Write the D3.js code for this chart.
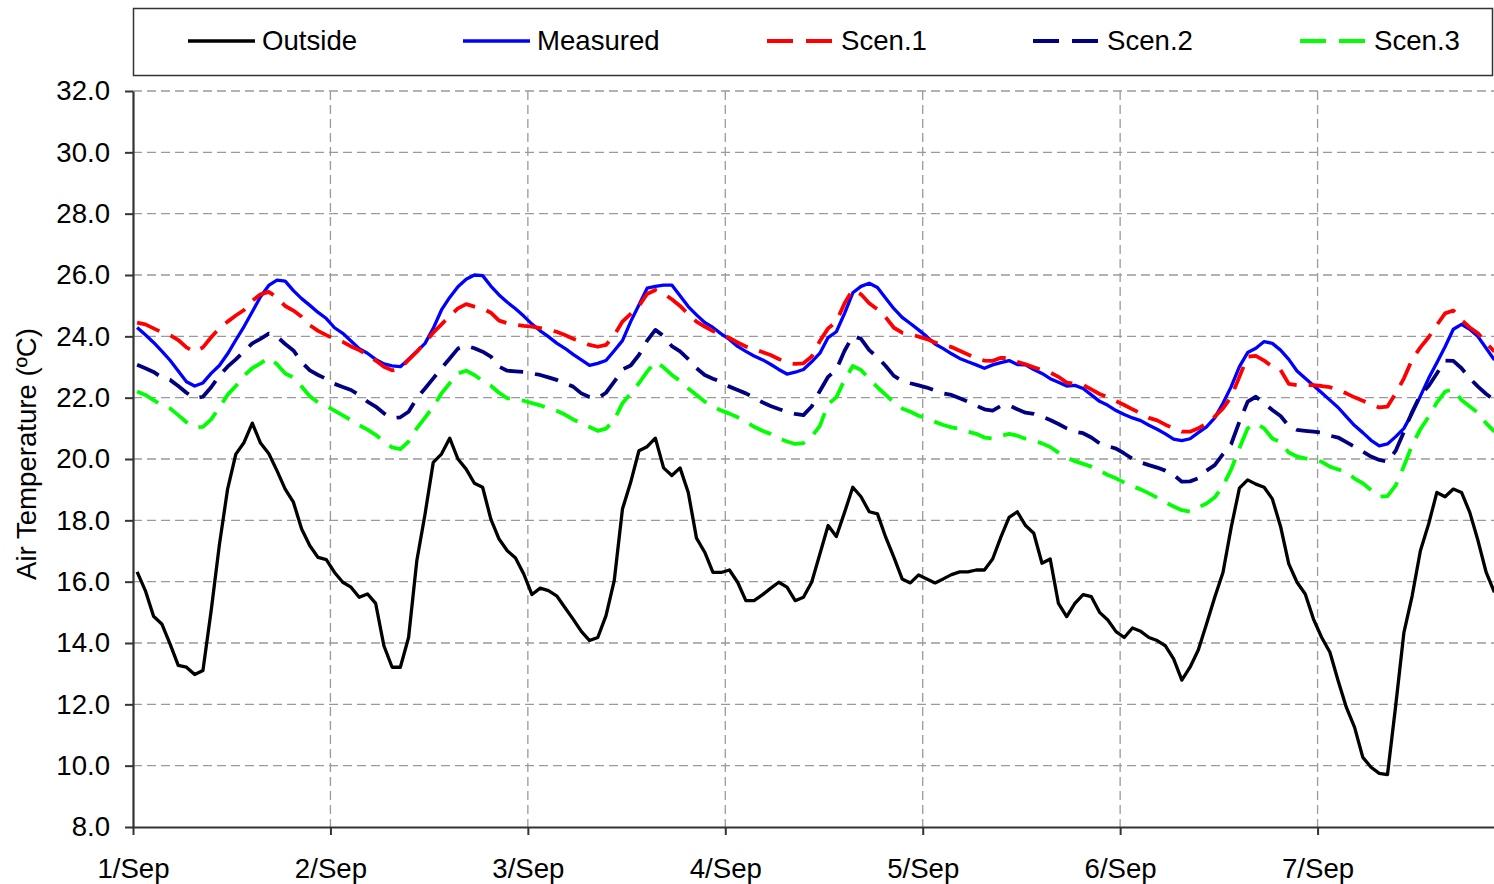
<!DOCTYPE html>
<html><head><meta charset="utf-8">
<script src="https://cdn.jsdelivr.net/npm/d3@7"></script>
<style>
html,body{margin:0;padding:0;background:#fff;}
svg{display:block;font-family:"Liberation Sans",Arial,sans-serif;}
</style></head>
<body>
<svg id="chart" width="1494" height="884"></svg>
<script>
// ---- DATA (hourly values, 1/Sep 00:30 onward) ----
const dayLabels = ["1/Sep","2/Sep","3/Sep","4/Sep","5/Sep","6/Sep","7/Sep"];
const yTicks = [8,10,12,14,16,18,20,22,24,26,28,30,32];
const seriesNames = ["Outside","Measured","Scen.1","Scen.2","Scen.3"];

const outside = [16.32,15.71,14.87,14.62,13.97,13.27,13.21,12.97,13.10,15.05,17.2,19.02,20.16,20.54,21.17,20.52,20.18,19.62,19.02,18.59,17.72,17.17,16.79,16.72,
16.30,15.98,15.82,15.49,15.60,15.29,13.91,13.21,13.21,14.18,16.68,18.2,19.89,20.16,20.68,20.0,19.67,19.21,19.08,18.04,17.39,17.01,16.77,16.25,
15.58,15.79,15.71,15.54,15.16,14.78,14.38,14.08,14.18,14.89,16.03,18.37,19.24,20.27,20.40,20.68,19.71,19.46,19.71,18.91,17.42,16.96,16.30,16.30,
16.38,15.98,15.38,15.38,15.57,15.78,15.98,15.82,15.38,15.49,15.98,16.9,17.83,17.47,18.26,19.08,18.77,18.28,18.21,17.45,16.79,16.09,15.96,16.22,
16.09,15.96,16.09,16.23,16.32,16.32,16.38,16.38,16.74,17.45,18.10,18.28,17.83,17.58,16.60,16.74,15.29,14.86,15.29,15.58,15.51,15.00,14.75,14.37,
14.18,14.49,14.38,14.18,14.08,13.91,13.48,12.79,13.21,13.77,14.62,15.49,16.30,17.77,19.05,19.32,19.18,19.08,18.70,17.8,16.58,15.98,15.60,14.78,
14.18,13.70,12.77,11.90,11.25,10.27,9.95,9.75,9.71,11.96,14.35,15.54,17.01,17.88,18.91,18.77,19.02,18.91,18.26,17.34,16.30,15.65];

const measured = [24.29,24.05,23.80,23.52,23.22,22.87,22.52,22.38,22.48,22.79,23.05,23.43,23.88,24.32,24.80,25.29,25.66,25.83,25.80,25.49,25.23,25.01,24.78,24.58,
24.28,24.10,23.85,23.6,23.45,23.25,23.10,23.04,23.01,23.25,23.50,23.77,24.26,24.86,25.27,25.62,25.86,26.0,25.98,25.64,25.35,25.11,24.90,24.66,
24.40,24.18,23.99,23.78,23.61,23.41,23.23,23.05,23.12,23.21,23.53,23.86,24.48,25.02,25.57,25.63,25.67,25.67,25.32,24.97,24.70,24.45,24.29,24.08,
23.90,23.67,23.51,23.36,23.24,23.09,22.92,22.77,22.83,22.92,23.17,23.45,23.96,24.15,24.75,25.42,25.63,25.73,25.59,25.24,24.90,24.62,24.42,24.21,
23.99,23.75,23.60,23.43,23.28,23.17,23.07,22.96,23.07,23.14,23.21,23.08,23.07,22.92,22.79,22.62,22.50,22.38,22.40,22.30,22.09,21.88,21.75,21.58,
21.45,21.34,21.25,21.10,20.97,20.82,20.65,20.60,20.66,20.86,21.05,21.34,21.82,22.36,23.01,23.47,23.61,23.83,23.77,23.55,23.25,22.87,22.63,22.40,
22.16,21.92,21.68,21.38,21.09,20.86,20.61,20.43,20.49,20.73,21.0,21.49,22.05,22.63,23.14,23.66,24.23,24.39,24.23,23.99,23.61,23.23];

const scen1 = [24.45,24.39,24.26,24.13,24.04,23.88,23.64,23.49,23.64,23.97,24.26,24.48,24.68,24.86,25.16,25.37,25.45,25.27,24.99,24.84,24.64,24.36,24.18,24.04,
23.91,23.82,23.67,23.55,23.39,23.21,23.01,22.89,22.96,23.23,23.50,23.79,24.12,24.39,24.66,24.91,25.05,24.97,24.91,24.77,24.51,24.43,24.38,24.34,
24.32,24.27,24.21,24.15,24.04,23.92,23.83,23.72,23.66,23.72,24.04,24.48,24.73,24.99,25.38,25.51,25.39,25.21,24.99,24.73,24.48,24.32,24.17,24.05,
23.95,23.80,23.67,23.58,23.49,23.39,23.26,23.14,23.10,23.12,23.34,23.85,24.26,24.48,25.08,25.52,25.37,25.08,24.88,24.62,24.28,24.12,24.07,23.99,
23.91,23.80,23.72,23.65,23.53,23.41,23.28,23.21,23.20,23.30,23.29,23.17,23.09,22.99,22.90,22.82,22.68,22.49,22.45,22.42,22.27,22.12,22.01,21.89,
21.76,21.62,21.49,21.34,21.26,21.12,21.00,20.89,20.89,21.00,21.16,21.38,21.65,22.03,22.68,23.34,23.36,23.21,23.01,22.90,22.45,22.41,22.41,22.41,
22.38,22.34,22.25,22.14,22.01,21.90,21.79,21.68,21.71,22.14,22.63,23.25,23.64,23.97,24.37,24.75,24.84,24.53,24.29,24.10,23.79,23.50];

const scen2 = [23.07,22.96,22.84,22.66,22.58,22.38,22.16,21.98,22.03,22.34,22.72,23.01,23.25,23.51,23.77,23.92,24.09,23.99,23.75,23.54,23.16,22.89,22.74,22.61,
22.45,22.35,22.25,22.08,21.87,21.71,21.49,21.33,21.36,21.54,21.98,22.30,22.63,22.96,23.28,23.60,23.70,23.61,23.50,23.34,23.01,22.88,22.86,22.84,
22.79,22.74,22.66,22.58,22.47,22.36,22.14,22.02,21.98,22.16,22.52,22.92,23.05,23.39,23.86,24.21,24.01,23.68,23.51,23.26,22.96,22.74,22.62,22.51,
22.36,22.25,22.14,22.00,21.85,21.73,21.63,21.54,21.47,21.43,21.71,22.22,22.68,22.92,23.53,24.01,23.92,23.55,23.32,23.03,22.71,22.55,22.47,22.40,
22.33,22.23,22.14,22.09,21.98,21.87,21.74,21.62,21.58,21.73,21.75,21.62,21.51,21.47,21.38,21.27,21.14,21.00,20.89,20.84,20.70,20.51,20.42,20.34,
20.18,20.01,19.89,19.80,19.72,19.62,19.48,19.26,19.27,19.37,19.62,19.80,20.16,20.49,21.22,21.87,22.03,21.82,21.60,21.40,21.08,20.95,20.92,20.89,
20.86,20.76,20.70,20.55,20.40,20.24,20.08,19.97,19.91,20.27,20.89,21.54,22.09,22.38,22.79,23.21,23.20,22.96,22.63,22.36,22.12,21.92];

const scen3 = [22.20,22.09,21.92,21.76,21.65,21.43,21.20,21.03,21.05,21.29,21.68,22.09,22.38,22.72,22.96,23.12,23.30,23.09,22.79,22.66,22.36,22.05,21.84,21.73,
21.58,21.42,21.27,21.10,20.96,20.79,20.57,20.38,20.32,20.57,21.00,21.35,21.71,22.14,22.47,22.79,22.88,22.74,22.55,22.39,22.16,21.98,21.96,21.90,
21.82,21.75,21.65,21.57,21.45,21.29,21.16,21.04,20.92,20.99,21.27,21.82,22.14,22.47,22.85,23.17,22.99,22.74,22.55,22.30,22.09,21.87,21.71,21.58,
21.48,21.36,21.22,21.05,20.92,20.82,20.67,20.57,20.49,20.52,20.73,21.08,21.79,22.01,22.58,23.03,22.90,22.61,22.34,22.09,21.84,21.65,21.54,21.41,
21.33,21.21,21.11,21.03,20.98,20.89,20.82,20.70,20.67,20.75,20.82,20.76,20.66,20.60,20.51,20.39,20.21,20.05,19.93,19.84,19.75,19.62,19.48,19.37,
19.23,19.11,19.01,18.88,18.74,18.59,18.45,18.33,18.28,18.42,18.55,18.75,19.12,19.66,20.35,21.00,21.16,21.00,20.67,20.55,20.21,20.08,20.02,19.99,
19.91,19.75,19.66,19.58,19.36,19.21,18.99,18.77,18.79,19.14,19.77,20.46,20.97,21.38,21.84,22.20,22.27,21.92,21.71,21.51,21.16,20.89];

// ---- STYLES ----
const styles = [
  {color:"#000000", dash:null,    width:3.3},
  {color:"#0000ff", dash:null,    width:3.3},
  {color:"#ff0000", dash:"24,12", width:3.8},
  {color:"#000080", dash:"24,12", width:3.8},
  {color:"#00ff00", dash:"24,12", width:3.8}
];
const allSeries = [outside, measured, scen1, scen2, scen3];
const FONT = 27.6;

const svg = d3.select("#chart");
const W = 1494, H = 884;
const margin = {left:133, top:91, bottom:827};
const hoursPerDay = 24;

const x = d3.scaleLinear().domain([0, 7*hoursPerDay]).range([margin.left, 1515]);
const y = d3.scaleLinear().domain([8, 32]).range([margin.bottom, margin.top]);

// gridlines
const grid = svg.append("g");
grid.selectAll("line.h").data(yTicks.filter(v => v > 8)).enter().append("line")
  .attr("x1", margin.left).attr("x2", W)
  .attr("y1", d => y(d)).attr("y2", d => y(d))
  .attr("stroke", "#9a9a9a").attr("stroke-width", 1.3).attr("stroke-dasharray", "9,5");
grid.selectAll("line.v").data(dayLabels.slice(1).map((d,i) => (i+1)*hoursPerDay)).enter().append("line")
  .attr("x1", d => x(d)).attr("x2", d => x(d))
  .attr("y1", margin.top).attr("y2", margin.bottom)
  .attr("stroke", "#9a9a9a").attr("stroke-width", 1.3).attr("stroke-dasharray", "9,5");

// lines
svg.append("clipPath").attr("id","plotclip").append("rect")
  .attr("x", margin.left).attr("y", 0).attr("width", W - margin.left).attr("height", margin.bottom);
const lineGen = d3.line().x((d,i) => x(i + 0.5)).y(d => y(d));
const lines = svg.append("g").attr("clip-path","url(#plotclip)");
allSeries.forEach((s, k) => {
  lines.append("path").datum(s)
    .attr("d", lineGen)
    .attr("fill", "none")
    .attr("stroke", styles[k].color)
    .attr("stroke-width", styles[k].width)
    .attr("stroke-linejoin", "round")
    .attr("stroke-dasharray", styles[k].dash);
});

// axes
const yAxis = d3.axisLeft(y).tickValues(yTicks).tickFormat(d3.format(".1f"))
  .tickSize(8).tickSizeOuter(0).tickPadding(15);
const gy = svg.append("g").attr("transform", `translate(${margin.left},0)`).call(yAxis);
gy.selectAll("text").attr("font-size", FONT).attr("fill", "#000").attr("font-family", '"Liberation Sans", Arial, sans-serif');
gy.selectAll("line").attr("stroke", "#333").attr("stroke-width", 2);
gy.select(".domain").attr("stroke", "#333").attr("stroke-width", 2.2);

const xAxis = d3.axisBottom(x).tickValues(dayLabels.map((d,i) => i*hoursPerDay))
  .tickFormat((d,i) => dayLabels[i]).tickSize(8).tickSizeOuter(0).tickPadding(23);
const gx = svg.append("g").attr("transform", `translate(0,${margin.bottom})`).call(xAxis);
gx.selectAll("text").attr("font-size", FONT).attr("fill", "#000").attr("font-family", '"Liberation Sans", Arial, sans-serif');
gx.selectAll("line").attr("stroke", "#333").attr("stroke-width", 2);
gx.select(".domain").attr("stroke", "#333").attr("stroke-width", 2.2);

// y title
svg.append("text")
  .attr("transform", `translate(36,454) rotate(-90)`)
  .attr("text-anchor", "middle")
  .attr("font-size", FONT)
  .text("Air Temperature (ºC)");

// legend
const lg = svg.append("g");
lg.append("rect").attr("x", 133.5).attr("y", 8.5).attr("width", 1359).attr("height", 67)
  .attr("fill", "#fff").attr("stroke", "#333").attr("stroke-width", 1.5);
const legendX = [188, 463, 767, 1033, 1300];
seriesNames.forEach((name, k) => {
  lg.append("line").attr("x1", legendX[k]).attr("x2", legendX[k] + 67)
    .attr("y1", 41).attr("y2", 41)
    .attr("stroke", styles[k].color).attr("stroke-width", styles[k].width)
    .attr("stroke-dasharray", styles[k].dash ? "26,13" : null);
  lg.append("text").attr("x", legendX[k] + 74).attr("y", 50)
    .attr("font-size", FONT).text(name);
});
</script>
</body></html>
